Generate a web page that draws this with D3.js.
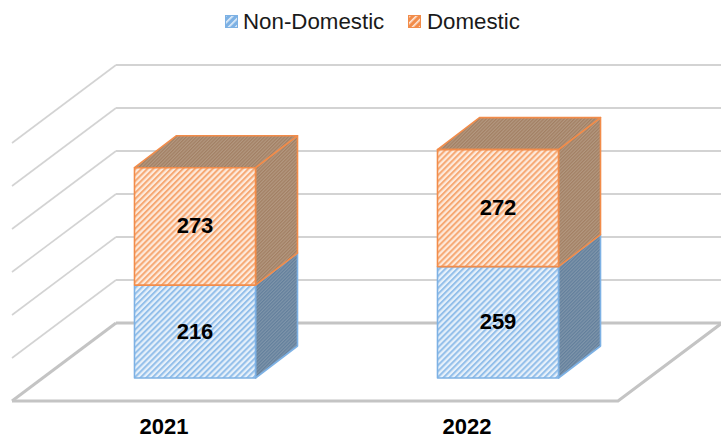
<!DOCTYPE html>
<html><head><meta charset="utf-8">
<script src="https://cdnjs.cloudflare.com/ajax/libs/d3/7.8.5/d3.min.js"></script>
<style>html,body{margin:0;padding:0;background:#fff}svg{display:block;font-family:"Liberation Sans",Arial,sans-serif}</style>
</head><body><svg id="c" width="721" height="439"></svg>
<script>
const categories=["2021","2022"];
const seriesNames=["Non-Domestic","Domestic"];
const nonDomestic=[216,259];
const domestic=[273,272];
const gridTicks=[0,100,200,300,400,500,600];

const svg=d3.select("#c");
const W={x0:12,x1:618,y0:401,dx:104,dy:78};
const x=d3.scaleBand().domain(categories).range([W.x0,W.x1]);
const y=d3.scaleLinear().domain([0,600]).range([0,258]);
const colors={"Non-Domestic":{line:"#7db1e4",stripe:"#93bfea",bg:"#e6f0fa",side1:"#627f9c",side2:"#7f95aa"},
              "Domestic":{line:"#f28c4a",stripe:"#f6a873",bg:"#fdeadc",side1:"#a27f63",side2:"#b39880"}};
const defs=svg.append("defs");
seriesNames.forEach((s,i)=>{
  const c=colors[s];
  const f=defs.append("pattern").attr("id","front"+i).attr("patternUnits","userSpaceOnUse").attr("width",4.2).attr("height",4.2).attr("patternTransform","rotate(45)");
  f.append("rect").attr("width",4.2).attr("height",4.2).attr("fill",c.bg);
  f.append("rect").attr("width",2).attr("height",4.2).attr("fill",c.stripe);
  const d=defs.append("pattern").attr("id","side"+i).attr("patternUnits","userSpaceOnUse").attr("width",2.4).attr("height",2.4).attr("patternTransform","rotate(45)");
  d.append("rect").attr("width",2.4).attr("height",2.4).attr("fill",c.side2);
  d.append("rect").attr("width",1.2).attr("height",2.4).attr("fill",c.side1);
  const l=defs.append("pattern").attr("id","leg"+i).attr("patternUnits","userSpaceOnUse").attr("width",5).attr("height",5).attr("patternTransform","rotate(45)");
  l.append("rect").attr("width",5).attr("height",5).attr("fill",c.line);
  l.append("rect").attr("width",1.6).attr("height",5).attr("fill",c.bg);
});

const line=d3.line();
const grid=svg.append("g").attr("fill","none");
gridTicks.forEach(t=>{
  const yf=W.y0-y(t), yb=yf-W.dy;
  const col=t===0?"#c4c4c4":"#d3d3d3";
  grid.append("path").attr("d",line([[W.x0,yf],[W.x0+W.dx,yb]])).attr("stroke",col).attr("stroke-width",t===0?3:1.6);
  grid.append("path").attr("d",line([[W.x0+W.dx,yb],[W.x1+W.dx,yb]])).attr("stroke",col).attr("stroke-width",t===0?3:2);
});
grid.append("path").attr("d",line([[W.x0,W.y0],[W.x1,W.y0],[W.x1+W.dx,W.y0-W.dy]])).attr("stroke","#c4c4c4").attr("stroke-width",3);

const inset={dx:31.5,dy:23}, depth={dx:42,dy:32}, barW=121;
const stacks=categories.map((c,i)=>{
  let base=0;
  return [nonDomestic[i],domestic[i]].map((v,j)=>{const r={c,i,j,v,b:base,t:base+v};base+=v;return r;});
});
const bars=svg.append("g");
stacks.forEach(st=>st.forEach(d=>{
  const cx=x(d.c)+x.bandwidth()/2+inset.dx;
  const l=cx-barW/2, r=cx+barW/2;
  const yb=W.y0-inset.dy-y(d.b), yt=W.y0-inset.dy-y(d.t);
  const col=colors[seriesNames[d.j]];
  const g=bars.append("g").attr("stroke",col.line).attr("stroke-width",1.6).attr("stroke-linejoin","round");
  g.append("path").attr("d",line([[r,yb],[r+depth.dx,yb-depth.dy],[r+depth.dx,yt-depth.dy],[r,yt]])+"Z").attr("fill",`url(#side${d.j})`);
  if(d.j===1) g.append("path").attr("d",line([[l,yt],[l+depth.dx,yt-depth.dy],[r+depth.dx,yt-depth.dy],[r,yt]])+"Z").attr("fill",`url(#side${d.j})`);
  g.append("rect").attr("x",l).attr("y",yt).attr("width",barW).attr("height",yb-yt).attr("fill",`url(#front${d.j})`);
}));
stacks.forEach(st=>st.forEach(d=>{
  const cx=x(d.c)+x.bandwidth()/2+inset.dx;
  const ym=W.y0-inset.dy-y((d.b+d.t)/2);
  svg.append("text").attr("x",cx).attr("y",ym+7).attr("text-anchor","middle").attr("font-size",22).attr("font-weight","bold").attr("fill","#000").text(d.v);
}));
categories.forEach(c=>{
  svg.append("text").attr("x",x(c)+x.bandwidth()/2+0.5).attr("y",434).attr("text-anchor","middle").attr("font-size",22).attr("font-weight","bold").attr("fill","#000").text(c);
});
const legendX=[225.5,408.5], legendTextX=[243,427];
seriesNames.forEach((s,i)=>{
  svg.append("rect").attr("x",legendX[i]).attr("y",15.5).attr("width",12).attr("height",12).attr("fill",`url(#leg${i})`).attr("stroke",colors[s].line).attr("stroke-width",1);
  svg.append("text").attr("x",legendTextX[i]).attr("y",29).attr("font-size",22.3).attr("fill","#1a1a1a").text(s);
});
</script></body></html>
